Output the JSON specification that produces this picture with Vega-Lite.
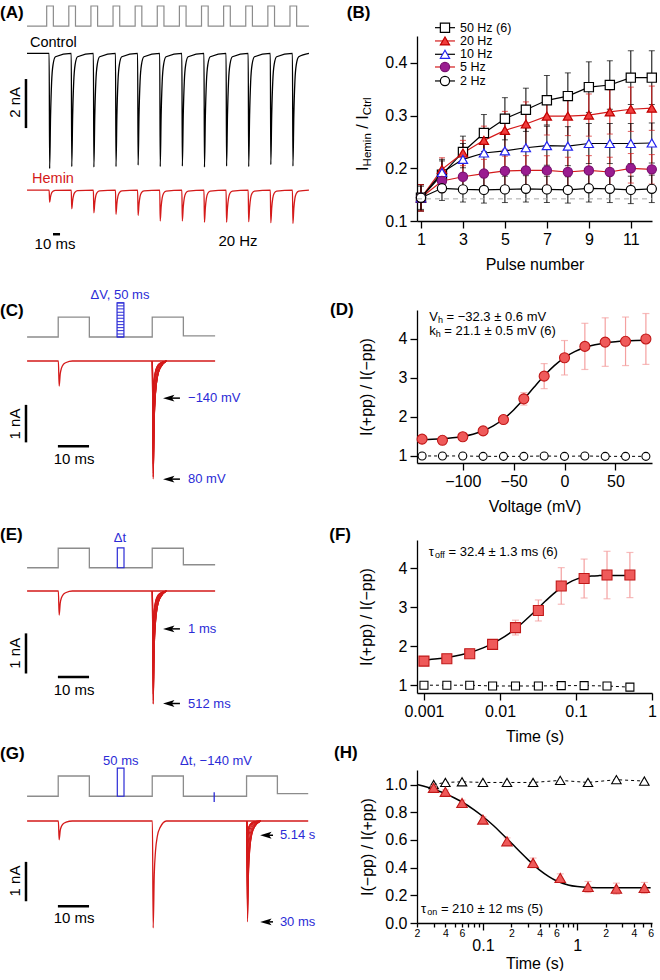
{
"$schema": "https://vega.github.io/schema/vega-lite/v6.json",
"background": "white",
"padding": {"left": 0, "top": 3, "right": 0, "bottom": 0},
"config": {
  "font": "Liberation Sans",
  "view": {"stroke": null},
  "axis": {"labelFont": "Liberation Sans", "titleFont": "Liberation Sans", "labelFontSize": 16, "titleFontSize": 16, "titleFontWeight": "normal", "labelColor": "#000", "titleColor": "#000", "domainColor": "#000", "tickColor": "#000", "grid": false, "tickSize": 7, "domainWidth": 1.3, "tickWidth": 1.3, "labelPadding": 3, "labelFlush": false, "labelOverlap": false},
  "text": {"font": "Liberation Sans", "color": "#000"}
},
"columns": 2,
"align": "each",
"bounds": "flush",
"spacing": {"column": 87, "row": 77},
"concat": [
{
 "width": 330, "height": 197,
 "layer": [
  {"encoding": {
     "x": {"field": "t", "type": "quantitative", "scale": {"domain": [0, 470], "nice": false, "zero": false}, "axis": null},
     "y": {"field": "y", "type": "quantitative", "scale": {"domain": [-7.33, 0.706], "nice": false, "zero": false}, "axis": null}},
   "layer": [
    {"data": {"name": "A_v"}, "mark": {"type": "line", "interpolate": "step-after", "color": "#8c8c8c", "strokeWidth": 1.2}, "encoding": {}},
    {"data": {"name": "A_i"}, "mark": {"type": "line", "interpolate": "monotone", "strokeWidth": 1.3}, "encoding": {"color": {"field": "c", "type": "nominal", "scale": {"domain": ["Control", "Hemin"], "range": ["#000000", "#d41a1a"]}, "legend": null}}}
   ]},
  {"data": {"values": [{}]}, "mark": {"type": "rule", "strokeWidth": 2.5, "color": "#000"}, "encoding": {"x": {"datum": 37, "type": "quantitative", "axis": null}, "y": {"datum": -1.05, "type": "quantitative", "axis": null}, "y2": {"datum": -3.05}}},
  {"data": {"values": [{}]}, "mark": {"type": "rule", "strokeWidth": 2.5, "color": "#000"}, "encoding": {"x": {"datum": 75.5, "type": "quantitative", "axis": null}, "x2": {"datum": 85.5}, "y": {"datum": -7.38, "type": "quantitative", "axis": null}}},
  {"data": {"values": [{}]}, "mark": {"type": "text", "text": "(A)", "fontSize": 17, "fontWeight": "bold", "align": "left", "baseline": "middle"}, "encoding": {"x": {"datum": 0, "type": "quantitative", "axis": null}, "y": {"datum": 1.65, "type": "quantitative", "axis": null}}},
  {"data": {"values": [{}]}, "mark": {"type": "text", "text": "Control", "fontSize": 14.5, "align": "left", "baseline": "middle"}, "encoding": {"x": {"datum": 42.7, "type": "quantitative", "axis": null}, "y": {"datum": 0.42, "type": "quantitative", "axis": null}}},
  {"data": {"values": [{}]}, "mark": {"type": "text", "text": "Hemin", "fontSize": 14.5, "align": "left", "baseline": "middle", "color": "#d41a1a"}, "encoding": {"x": {"datum": 45.6, "type": "quantitative", "axis": null}, "y": {"datum": -5.13, "type": "quantitative", "axis": null}}},
  {"data": {"values": [{}]}, "mark": {"type": "text", "text": "2 nA", "fontSize": 15, "angle": 270, "align": "center", "baseline": "middle"}, "encoding": {"x": {"datum": 21.4, "type": "quantitative", "axis": null}, "y": {"datum": -2.0, "type": "quantitative", "axis": null}}},
  {"data": {"values": [{}]}, "mark": {"type": "text", "text": "10 ms", "fontSize": 15, "align": "center", "baseline": "middle"}, "encoding": {"x": {"datum": 78.3, "type": "quantitative", "axis": null}, "y": {"datum": -7.78, "type": "quantitative", "axis": null}}},
  {"data": {"values": [{}]}, "mark": {"type": "text", "text": "20 Hz", "fontSize": 15, "align": "center", "baseline": "middle"}, "encoding": {"x": {"datum": 339, "type": "quantitative", "axis": null}, "y": {"datum": -7.66, "type": "quantitative", "axis": null}}}
 ]
},
{
 "width": 235, "height": 185,
 "layer": [
  {"encoding": {
     "x": {"field": "x", "type": "quantitative", "scale": {"domain": [0.81, 12.01], "nice": false, "zero": false}, "axis": {"values": [1, 3, 5, 7, 9, 11], "tickCount": 30, "format": "d", "title": "Pulse number", "titlePadding": 9, "labelOverlap": false, "labelFlush": false}},
     "y": {"field": "y", "type": "quantitative", "scale": {"domain": [0.1, 0.451], "nice": false, "zero": false}, "axis": {"values": [0.1, 0.2, 0.3, 0.4], "tickCount": 30, "format": ".1f", "title": null, "labelOverlap": false}}},
   "layer": [
    {"data": {"name": "B"}, "mark": {"type": "rule", "strokeWidth": 1}, "encoding": {"y": {"field": "lo", "type": "quantitative", "title": null}, "y2": {"field": "hi"}, "color": {"field": "s", "type": "nominal", "scale": {"domain": ["50 Hz (6)", "20 Hz", "10 Hz", "5 Hz", "2 Hz"], "range": ["#000000", "#f27474", "#2323f0", "#8e1b86", "#000000"]}, "legend": null}}},
    {"data": {"name": "B"}, "mark": {"type": "tick", "orient": "horizontal", "size": 6, "thickness": 1}, "encoding": {"y": {"field": "lo", "type": "quantitative", "title": null}, "color": {"field": "s", "type": "nominal", "legend": null}}},
    {"data": {"name": "B"}, "mark": {"type": "tick", "orient": "horizontal", "size": 6, "thickness": 1}, "encoding": {"y": {"field": "hi", "type": "quantitative", "title": null}, "color": {"field": "s", "type": "nominal", "legend": null}}},
    {"data": {"name": "B"}, "mark": {"type": "line", "strokeWidth": 1.2}, "encoding": {"color": {"field": "s", "type": "nominal", "legend": null}}},
    {"data": {"name": "B"}, "mark": {"type": "point", "opacity": 1, "strokeWidth": 1.2, "size": 85}, "encoding": {
       "shape": {"field": "s", "type": "nominal", "scale": {"domain": ["50 Hz (6)", "20 Hz", "10 Hz", "5 Hz", "2 Hz"], "range": ["square", "triangle-up", "triangle-up", "circle", "circle"]}, "legend": null},
       "fill": {"field": "s", "type": "nominal", "scale": {"domain": ["50 Hz (6)", "20 Hz", "10 Hz", "5 Hz", "2 Hz"], "range": ["#ffffff", "#f03c3c", "#ffffff", "#9a1c90", "#ffffff"]}, "legend": null},
       "stroke": {"field": "s", "type": "nominal", "scale": {"domain": ["50 Hz (6)", "20 Hz", "10 Hz", "5 Hz", "2 Hz"], "range": ["#000000", "#c00000", "#2323f0", "#7a1070", "#000000"]}, "legend": null}}}
   ]},
  {"data": {"values": [{}]}, "mark": {"type": "rule", "color": "#a6a6a6", "strokeDash": [5, 4], "strokeWidth": 1}, "encoding": {"x": {"datum": 0.81, "type": "quantitative"}, "x2": {"datum": 12.01}, "y": {"datum": 0.142, "type": "quantitative"}}},
  {"data": {"name": "B_leg"}, "mark": {"type": "rule", "strokeWidth": 1.2}, "encoding": {"x": {"datum": 1.667, "type": "quantitative"}, "x2": {"datum": 2.62}, "y": {"field": "y", "type": "quantitative", "title": null}, "color": {"field": "s", "type": "nominal", "legend": null}}},
  {"data": {"name": "B_leg"}, "mark": {"type": "point", "opacity": 1, "strokeWidth": 1.2, "size": 85}, "encoding": {"x": {"datum": 2.143, "type": "quantitative"}, "y": {"field": "y", "type": "quantitative", "title": null}, "shape": {"field": "s", "type": "nominal", "legend": null}, "fill": {"field": "s", "type": "nominal", "legend": null}, "stroke": {"field": "s", "type": "nominal", "legend": null}}},
  {"data": {"name": "B_leg"}, "mark": {"type": "text", "align": "left", "baseline": "middle", "fontSize": 12.5}, "encoding": {"x": {"datum": 2.857, "type": "quantitative"}, "y": {"field": "y", "type": "quantitative", "title": null}, "text": {"field": "s"}}},
  {"data": {"values": [{}]}, "mark": {"type": "text", "text": "I", "angle": 270, "align": "left", "baseline": "middle", "fontSize": 16}, "encoding": {"x": {"datum": -1.74, "type": "quantitative"}, "y": {"datum": 0.195, "type": "quantitative"}}},
  {"data": {"values": [{}]}, "mark": {"type": "text", "text": "Hemin", "angle": 270, "align": "left", "baseline": "middle", "fontSize": 11.5, "dx": 4.5, "dy": 4.5}, "encoding": {"x": {"datum": -1.74, "type": "quantitative"}, "y": {"datum": 0.195, "type": "quantitative"}}},
  {"data": {"values": [{}]}, "mark": {"type": "text", "text": "/ I", "angle": 270, "align": "left", "baseline": "middle", "fontSize": 16, "dx": 42.2}, "encoding": {"x": {"datum": -1.74, "type": "quantitative"}, "y": {"datum": 0.195, "type": "quantitative"}}},
  {"data": {"values": [{}]}, "mark": {"type": "text", "text": "Ctrl", "angle": 270, "align": "left", "baseline": "middle", "fontSize": 11.5, "dx": 55.6, "dy": 4.5}, "encoding": {"x": {"datum": -1.74, "type": "quantitative"}, "y": {"datum": 0.195, "type": "quantitative"}}},
  {"data": {"values": [{}]}, "mark": {"type": "text", "text": "(B)", "fontSize": 17, "fontWeight": "bold", "align": "left", "baseline": "middle"}, "encoding": {"x": {"datum": -2.538, "type": "quantitative"}, "y": {"datum": 0.4953, "type": "quantitative"}}}
 ]
},
{
 "width": 330, "height": 153,
 "layer": [
  {"encoding": {
     "x": {"field": "t", "type": "quantitative", "scale": {"domain": [0, 106], "nice": false, "zero": false}, "axis": null},
     "y": {"field": "y", "type": "quantitative", "scale": {"domain": [-2.72, 1.36], "nice": false, "zero": false}, "axis": null}},
   "layer": [
    {"data": {"name": "C_v"}, "mark": {"type": "line", "interpolate": "step-after", "color": "#8c8c8c", "strokeWidth": 1.3}, "encoding": {}},
    {"data": {"name": "C_i0"}, "mark": {"type": "line", "interpolate": "monotone", "color": "#d41a1a", "strokeWidth": 1.3}, "encoding": {}},
    {"data": {"name": "C_sw"}, "mark": {"type": "line", "interpolate": "monotone", "color": "#d41a1a", "strokeWidth": 1.1}, "encoding": {"detail": {"field": "v", "type": "nominal"}}}
   ]},
  {"data": {"values": [{}]}, "mark": {"type": "rect", "filled": false, "color": "#2b2bd6", "strokeWidth": 1.2}, "encoding": {"x": {"datum": 37.6, "type": "quantitative", "axis": null}, "x2": {"datum": 39.8}, "y": {"datum": 0.64, "type": "quantitative", "axis": null}, "y2": {"datum": 1.55}}},
  {"data": {"name": "C_lv"}, "mark": {"type": "rule", "color": "#2b2bd6", "strokeWidth": 1}, "encoding": {"x": {"datum": 37.6, "type": "quantitative", "axis": null}, "x2": {"datum": 39.8}, "y": {"field": "y", "type": "quantitative", "axis": null}}},
  {"data": {"name": "C_ar"}, "mark": {"type": "rule", "color": "#000", "strokeWidth": 1.5}, "encoding": {"x": {"datum": 53.87, "type": "quantitative", "axis": null}, "x2": {"datum": 57.8}, "y": {"field": "y", "type": "quantitative", "axis": null}}},
  {"data": {"name": "C_ar"}, "mark": {"type": "point", "shape": "M-1,0L1,-0.6L0.55,0L1,0.6Z", "filled": true, "color": "#000", "size": 130, "opacity": 1}, "encoding": {"x": {"datum": 54.2, "type": "quantitative", "axis": null}, "y": {"field": "y", "type": "quantitative", "axis": null}}},
  {"data": {"name": "C_ar"}, "mark": {"type": "text", "align": "left", "baseline": "middle", "fontSize": 13, "color": "#2b2bd6"}, "encoding": {"x": {"datum": 60.4, "type": "quantitative", "axis": null}, "y": {"field": "y", "type": "quantitative", "axis": null}, "text": {"field": "label"}}},
  {"data": {"values": [{}]}, "mark": {"type": "rule", "strokeWidth": 2.5, "color": "#000"}, "encoding": {"x": {"datum": 8.35, "type": "quantitative", "axis": null}, "y": {"datum": -1.17, "type": "quantitative", "axis": null}, "y2": {"datum": -2.17}}},
  {"data": {"values": [{}]}, "mark": {"type": "rule", "strokeWidth": 2.5, "color": "#000"}, "encoding": {"x": {"datum": 18.6, "type": "quantitative", "axis": null}, "x2": {"datum": 28.6}, "y": {"datum": -2.27, "type": "quantitative", "axis": null}}},
  {"data": {"values": [{}]}, "mark": {"type": "text", "text": "(C)", "fontSize": 17, "fontWeight": "bold", "align": "left", "baseline": "middle"}, "encoding": {"x": {"datum": 0, "type": "quantitative", "axis": null}, "y": {"datum": 1.33, "type": "quantitative", "axis": null}}},
  {"data": {"values": [{}]}, "mark": {"type": "text", "text": "ΔV, 50 ms", "fontSize": 13, "align": "center", "baseline": "middle", "color": "#2b2bd6"}, "encoding": {"x": {"datum": 38.55, "type": "quantitative", "axis": null}, "y": {"datum": 1.76, "type": "quantitative", "axis": null}}},
  {"data": {"values": [{}]}, "mark": {"type": "text", "text": "1 nA", "fontSize": 15, "angle": 270, "align": "center", "baseline": "middle"}, "encoding": {"x": {"datum": 4.82, "type": "quantitative", "axis": null}, "y": {"datum": -1.68, "type": "quantitative", "axis": null}}},
  {"data": {"values": [{}]}, "mark": {"type": "text", "text": "10 ms", "fontSize": 15, "align": "center", "baseline": "middle"}, "encoding": {"x": {"datum": 23.8, "type": "quantitative", "axis": null}, "y": {"datum": -2.61, "type": "quantitative", "axis": null}}}
 ]
},
{
 "width": 235, "height": 153,
 "layer": [
  {"encoding": {
     "x": {"field": "x", "type": "quantitative", "scale": {"domain": [-145, 86], "nice": false, "zero": false}, "axis": {"values": [-100, -50, 0, 50], "tickCount": 30, "format": "d", "title": "Voltage (mV)", "titlePadding": 9, "labelOverlap": false, "labelFlush": false}},
     "y": {"field": "y", "type": "quantitative", "scale": {"domain": [0.82, 4.73], "nice": false, "zero": false}, "axis": {"values": [1, 2, 3, 4], "tickCount": 30, "format": "d", "title": "I(+pp) / I(−pp)", "titlePadding": 24, "labelOverlap": false}}},
   "layer": [
    {"data": {"name": "D_c"}, "mark": {"type": "line", "color": "#000", "strokeWidth": 1, "strokeDash": [3, 3]}, "encoding": {}},
    {"data": {"name": "D_c"}, "mark": {"type": "point", "shape": "circle", "fill": "#ffffff", "stroke": "#000", "strokeWidth": 1.1, "size": 64, "opacity": 1}, "encoding": {}},
    {"data": {"name": "D_r"}, "mark": {"type": "rule", "color": "#f4a0a0", "strokeWidth": 1.2}, "encoding": {"y": {"field": "lo", "type": "quantitative"}, "y2": {"field": "hi"}}},
    {"data": {"name": "D_r"}, "mark": {"type": "tick", "orient": "horizontal", "color": "#f4a0a0", "size": 7, "thickness": 1.2}, "encoding": {"y": {"field": "lo", "type": "quantitative"}}},
    {"data": {"name": "D_r"}, "mark": {"type": "tick", "orient": "horizontal", "color": "#f4a0a0", "size": 7, "thickness": 1.2}, "encoding": {"y": {"field": "hi", "type": "quantitative"}}},
    {"data": {"name": "D_fit"}, "mark": {"type": "line", "color": "#000", "strokeWidth": 1.5, "interpolate": "monotone"}, "encoding": {}},
    {"data": {"name": "D_r"}, "mark": {"type": "point", "shape": "circle", "fill": "#ef5a5a", "stroke": "#c01818", "strokeWidth": 1.1, "size": 100, "opacity": 1}, "encoding": {}}
   ]},
  {"data": {"values": [{}]}, "mark": {"type": "text", "text": "V", "fontSize": 13, "align": "left", "baseline": "middle"}, "encoding": {"x": {"datum": -133, "type": "quantitative"}, "y": {"datum": 4.55, "type": "quantitative"}}},
  {"data": {"values": [{}]}, "mark": {"type": "text", "text": "h", "fontSize": 9, "align": "left", "baseline": "middle", "dx": 8.7, "dy": 3}, "encoding": {"x": {"datum": -133, "type": "quantitative"}, "y": {"datum": 4.55, "type": "quantitative"}}},
  {"data": {"values": [{}]}, "mark": {"type": "text", "text": "= −32.3 ± 0.6 mV", "fontSize": 13, "align": "left", "baseline": "middle", "dx": 17.3}, "encoding": {"x": {"datum": -133, "type": "quantitative"}, "y": {"datum": 4.55, "type": "quantitative"}}},
  {"data": {"values": [{}]}, "mark": {"type": "text", "text": "k", "fontSize": 13, "align": "left", "baseline": "middle"}, "encoding": {"x": {"datum": -133, "type": "quantitative"}, "y": {"datum": 4.2, "type": "quantitative"}}},
  {"data": {"values": [{}]}, "mark": {"type": "text", "text": "h", "fontSize": 9, "align": "left", "baseline": "middle", "dx": 6.5, "dy": 3}, "encoding": {"x": {"datum": -133, "type": "quantitative"}, "y": {"datum": 4.2, "type": "quantitative"}}},
  {"data": {"values": [{}]}, "mark": {"type": "text", "text": "= 21.1 ± 0.5 mV (6)", "fontSize": 13, "align": "left", "baseline": "middle", "dx": 15.1}, "encoding": {"x": {"datum": -133, "type": "quantitative"}, "y": {"datum": 4.2, "type": "quantitative"}}},
  {"data": {"values": [{}]}, "mark": {"type": "text", "text": "(D)", "fontSize": 17, "fontWeight": "bold", "align": "left", "baseline": "middle"}, "encoding": {"x": {"datum": -230.5, "type": "quantitative"}, "y": {"datum": 4.72, "type": "quantitative"}}}
 ]
},
{
 "width": 330, "height": 153,
 "layer": [
  {"encoding": {
     "x": {"field": "t", "type": "quantitative", "scale": {"domain": [0, 106], "nice": false, "zero": false}, "axis": null},
     "y": {"field": "y", "type": "quantitative", "scale": {"domain": [-2.72, 1.36], "nice": false, "zero": false}, "axis": null}},
   "layer": [
    {"data": {"name": "E_v"}, "mark": {"type": "line", "interpolate": "step-after", "color": "#8c8c8c", "strokeWidth": 1.3}, "encoding": {}},
    {"data": {"name": "E_i0"}, "mark": {"type": "line", "interpolate": "monotone", "color": "#d41a1a", "strokeWidth": 1.3}, "encoding": {}},
    {"data": {"name": "E_sw"}, "mark": {"type": "line", "interpolate": "monotone", "color": "#d41a1a", "strokeWidth": 1.1}, "encoding": {"detail": {"field": "d", "type": "nominal"}}}
   ]},
  {"data": {"values": [{}]}, "mark": {"type": "rect", "filled": false, "color": "#2b2bd6", "strokeWidth": 1.2}, "encoding": {"x": {"datum": 37.68, "type": "quantitative", "axis": null}, "x2": {"datum": 39.83}, "y": {"datum": 0.62, "type": "quantitative", "axis": null}, "y2": {"datum": 1.15}}},
  {"data": {"name": "E_ar"}, "mark": {"type": "rule", "color": "#000", "strokeWidth": 1.5}, "encoding": {"x": {"datum": 53.87, "type": "quantitative", "axis": null}, "x2": {"datum": 57.8}, "y": {"field": "y", "type": "quantitative", "axis": null}}},
  {"data": {"name": "E_ar"}, "mark": {"type": "point", "shape": "M-1,0L1,-0.6L0.55,0L1,0.6Z", "filled": true, "color": "#000", "size": 130, "opacity": 1}, "encoding": {"x": {"datum": 54.2, "type": "quantitative", "axis": null}, "y": {"field": "y", "type": "quantitative", "axis": null}}},
  {"data": {"name": "E_ar"}, "mark": {"type": "text", "align": "left", "baseline": "middle", "fontSize": 13, "color": "#2b2bd6"}, "encoding": {"x": {"datum": 60.4, "type": "quantitative", "axis": null}, "y": {"field": "y", "type": "quantitative", "axis": null}, "text": {"field": "label"}}},
  {"data": {"values": [{}]}, "mark": {"type": "rule", "strokeWidth": 2.5, "color": "#000"}, "encoding": {"x": {"datum": 8.35, "type": "quantitative", "axis": null}, "y": {"datum": -1.13, "type": "quantitative", "axis": null}, "y2": {"datum": -2.2}}},
  {"data": {"values": [{}]}, "mark": {"type": "rule", "strokeWidth": 2.5, "color": "#000"}, "encoding": {"x": {"datum": 18.6, "type": "quantitative", "axis": null}, "x2": {"datum": 28.6}, "y": {"datum": -2.29, "type": "quantitative", "axis": null}}},
  {"data": {"values": [{}]}, "mark": {"type": "text", "text": "(E)", "fontSize": 17, "fontWeight": "bold", "align": "left", "baseline": "middle"}, "encoding": {"x": {"datum": 0, "type": "quantitative", "axis": null}, "y": {"datum": 1.5, "type": "quantitative", "axis": null}}},
  {"data": {"values": [{}]}, "mark": {"type": "text", "text": "Δt", "fontSize": 13, "align": "center", "baseline": "middle", "color": "#2b2bd6"}, "encoding": {"x": {"datum": 38.55, "type": "quantitative", "axis": null}, "y": {"datum": 1.42, "type": "quantitative", "axis": null}}},
  {"data": {"values": [{}]}, "mark": {"type": "text", "text": "1 nA", "fontSize": 15, "angle": 270, "align": "center", "baseline": "middle"}, "encoding": {"x": {"datum": 4.82, "type": "quantitative", "axis": null}, "y": {"datum": -1.66, "type": "quantitative", "axis": null}}},
  {"data": {"values": [{}]}, "mark": {"type": "text", "text": "10 ms", "fontSize": 15, "align": "center", "baseline": "middle"}, "encoding": {"x": {"datum": 23.8, "type": "quantitative", "axis": null}, "y": {"datum": -2.63, "type": "quantitative", "axis": null}}}
 ]
},
{
 "width": 235, "height": 153,
 "layer": [
  {"encoding": {
     "x": {"field": "x", "type": "quantitative", "scale": {"type": "log", "domain": [0.00081, 1], "nice": false, "zero": false}, "axis": {"values": [0.001, 0.01, 0.1, 1], "tickCount": 30, "format": "~g", "title": "Time (s)", "titlePadding": 9, "labelOverlap": false, "labelFlush": false}},
     "y": {"field": "y", "type": "quantitative", "scale": {"domain": [0.8, 4.73], "nice": false, "zero": false}, "axis": {"values": [1, 2, 3, 4], "tickCount": 30, "format": "d", "title": "I(+pp) / I(−pp)", "titlePadding": 24, "labelOverlap": false}}},
   "layer": [
    {"data": {"name": "F_c"}, "mark": {"type": "line", "color": "#000", "strokeWidth": 1, "strokeDash": [3, 3]}, "encoding": {}},
    {"data": {"name": "F_c"}, "mark": {"type": "point", "shape": "square", "fill": "#ffffff", "stroke": "#000", "strokeWidth": 1.1, "size": 64, "opacity": 1}, "encoding": {}},
    {"data": {"name": "F_r"}, "mark": {"type": "rule", "color": "#f4a0a0", "strokeWidth": 1.2}, "encoding": {"y": {"field": "lo", "type": "quantitative"}, "y2": {"field": "hi"}}},
    {"data": {"name": "F_r"}, "mark": {"type": "tick", "orient": "horizontal", "color": "#f4a0a0", "size": 7, "thickness": 1.2}, "encoding": {"y": {"field": "lo", "type": "quantitative"}}},
    {"data": {"name": "F_r"}, "mark": {"type": "tick", "orient": "horizontal", "color": "#f4a0a0", "size": 7, "thickness": 1.2}, "encoding": {"y": {"field": "hi", "type": "quantitative"}}},
    {"data": {"name": "F_fit"}, "mark": {"type": "line", "color": "#000", "strokeWidth": 1.5, "interpolate": "monotone"}, "encoding": {}},
    {"data": {"name": "F_r"}, "mark": {"type": "point", "shape": "square", "fill": "#ef5a5a", "stroke": "#c01818", "strokeWidth": 1.1, "size": 100, "opacity": 1}, "encoding": {}}
   ]},
  {"data": {"values": [{}]}, "mark": {"type": "text", "text": "τ", "fontSize": 13, "align": "left", "baseline": "middle"}, "encoding": {"x": {"datum": 0.001154, "type": "quantitative"}, "y": {"datum": 4.42, "type": "quantitative"}}},
  {"data": {"values": [{}]}, "mark": {"type": "text", "text": "off", "fontSize": 9, "align": "left", "baseline": "middle", "dx": 6.2, "dy": 3}, "encoding": {"x": {"datum": 0.001154, "type": "quantitative"}, "y": {"datum": 4.42, "type": "quantitative"}}},
  {"data": {"values": [{}]}, "mark": {"type": "text", "text": "= 32.4 ± 1.3 ms (6)", "fontSize": 13, "align": "left", "baseline": "middle", "dx": 19.8}, "encoding": {"x": {"datum": 0.001154, "type": "quantitative"}, "y": {"datum": 4.42, "type": "quantitative"}}},
  {"data": {"values": [{}]}, "mark": {"type": "text", "text": "(F)", "fontSize": 17, "fontWeight": "bold", "align": "left", "baseline": "middle"}, "encoding": {"x": {"datum": 0.0000568, "type": "quantitative"}, "y": {"datum": 4.87, "type": "quantitative"}}}
 ]
},
{
 "width": 330, "height": 153,
 "layer": [
  {"encoding": {
     "x": {"field": "t", "type": "quantitative", "scale": {"domain": [0, 106], "nice": false, "zero": false}, "axis": null},
     "y": {"field": "y", "type": "quantitative", "scale": {"domain": [-2.72, 1.36], "nice": false, "zero": false}, "axis": null}},
   "layer": [
    {"data": {"name": "G_v"}, "mark": {"type": "line", "interpolate": "step-after", "color": "#8c8c8c", "strokeWidth": 1.3}, "encoding": {}},
    {"data": {"name": "G_i0"}, "mark": {"type": "line", "interpolate": "monotone", "color": "#d41a1a", "strokeWidth": 1.3}, "encoding": {}},
    {"data": {"name": "G_sw"}, "mark": {"type": "line", "interpolate": "monotone", "color": "#d41a1a", "strokeWidth": 1.1}, "encoding": {"detail": {"field": "d", "type": "nominal"}}}
   ]},
  {"data": {"values": [{}]}, "mark": {"type": "rect", "filled": false, "color": "#2b2bd6", "strokeWidth": 1.2}, "encoding": {"x": {"datum": 37.68, "type": "quantitative", "axis": null}, "x2": {"datum": 39.83}, "y": {"datum": 0.66, "type": "quantitative", "axis": null}, "y2": {"datum": 1.41}}},
  {"data": {"values": [{}]}, "mark": {"type": "rule", "color": "#2b2bd6", "strokeWidth": 1.3}, "encoding": {"x": {"datum": 68.8, "type": "quantitative", "axis": null}, "y": {"datum": 0.51, "type": "quantitative", "axis": null}, "y2": {"datum": 0.77}}},
  {"data": {"name": "G_ar"}, "mark": {"type": "rule", "color": "#000", "strokeWidth": 1.5}, "encoding": {"x": {"datum": 85.1, "type": "quantitative", "axis": null}, "x2": {"datum": 87.7}, "y": {"field": "y", "type": "quantitative", "axis": null}}},
  {"data": {"name": "G_ar"}, "mark": {"type": "point", "shape": "M-1,0L1,-0.6L0.55,0L1,0.6Z", "filled": true, "color": "#000", "size": 130, "opacity": 1}, "encoding": {"x": {"datum": 85.4, "type": "quantitative", "axis": null}, "y": {"field": "y", "type": "quantitative", "axis": null}}},
  {"data": {"name": "G_ar"}, "mark": {"type": "text", "align": "left", "baseline": "middle", "fontSize": 13, "color": "#2b2bd6"}, "encoding": {"x": {"datum": 89.9, "type": "quantitative", "axis": null}, "y": {"field": "y", "type": "quantitative", "axis": null}, "text": {"field": "label"}}},
  {"data": {"values": [{}]}, "mark": {"type": "rule", "strokeWidth": 2.5, "color": "#000"}, "encoding": {"x": {"datum": 8.35, "type": "quantitative", "axis": null}, "y": {"datum": -1.09, "type": "quantitative", "axis": null}, "y2": {"datum": -2.14}}},
  {"data": {"values": [{}]}, "mark": {"type": "rule", "strokeWidth": 2.5, "color": "#000"}, "encoding": {"x": {"datum": 18.6, "type": "quantitative", "axis": null}, "x2": {"datum": 28.6}, "y": {"datum": -2.27, "type": "quantitative", "axis": null}}},
  {"data": {"values": [{}]}, "mark": {"type": "text", "text": "(G)", "fontSize": 17, "fontWeight": "bold", "align": "left", "baseline": "middle"}, "encoding": {"x": {"datum": 0, "type": "quantitative", "axis": null}, "y": {"datum": 1.8, "type": "quantitative", "axis": null}}},
  {"data": {"values": [{}]}, "mark": {"type": "text", "text": "50 ms", "fontSize": 13, "align": "center", "baseline": "middle", "color": "#2b2bd6"}, "encoding": {"x": {"datum": 38.8, "type": "quantitative", "axis": null}, "y": {"datum": 1.6, "type": "quantitative", "axis": null}}},
  {"data": {"values": [{}]}, "mark": {"type": "text", "text": "Δt, −140 mV", "fontSize": 13, "align": "center", "baseline": "middle", "color": "#2b2bd6"}, "encoding": {"x": {"datum": 69.4, "type": "quantitative", "axis": null}, "y": {"datum": 1.6, "type": "quantitative", "axis": null}}},
  {"data": {"values": [{}]}, "mark": {"type": "text", "text": "1 nA", "fontSize": 15, "angle": 270, "align": "center", "baseline": "middle"}, "encoding": {"x": {"datum": 4.82, "type": "quantitative", "axis": null}, "y": {"datum": -1.6, "type": "quantitative", "axis": null}}},
  {"data": {"values": [{}]}, "mark": {"type": "text", "text": "10 ms", "fontSize": 15, "align": "center", "baseline": "middle"}, "encoding": {"x": {"datum": 23.8, "type": "quantitative", "axis": null}, "y": {"datum": -2.59, "type": "quantitative", "axis": null}}}
 ]
},
{
 "width": 235, "height": 153,
 "layer": [
  {"encoding": {
     "x": {"field": "x", "type": "quantitative", "scale": {"type": "log", "domain": [0.02, 6.2], "nice": false, "zero": false}, "axis": {
        "values": [0.02, 0.03, 0.04, 0.05, 0.06, 0.07, 0.08, 0.09, 0.1, 0.2, 0.3, 0.4, 0.5, 0.6, 0.7, 0.8, 0.9, 1, 2, 3, 4, 5, 6],
        "tickCount": 30,
        "format": "~g",
        "labelExpr": "indexof(['0.02','0.04','0.06','0.2','0.4','0.6','2','4','6'], datum.label) >= 0 ? substring(datum.label, length(datum.label) - 1) : ((datum.label == '0.1' || datum.label == '1') ? datum.label : '')",
        "labelFontSize": {"condition": {"test": "datum.value == 0.1 || datum.value == 1", "value": 16}, "value": 10.5},
        "labelPadding": {"condition": {"test": "datum.value == 0.1 || datum.value == 1", "value": 7}, "value": 1},
        "tickSize": {"condition": {"test": "datum.value == 0.1 || datum.value == 1", "value": 7}, "value": 4},
        "labelOverlap": false, "labelFlush": false,
        "title": "Time (s)", "titlePadding": 2}},
     "y": {"field": "y", "type": "quantitative", "scale": {"domain": [0, 1.105], "nice": false, "zero": false}, "axis": {"values": [0, 0.2, 0.4, 0.6, 0.8, 1.0], "tickCount": 30, "format": ".1f", "title": "I(−pp) / I(+pp)", "titlePadding": 9, "labelOverlap": false}}},
   "layer": [
    {"data": {"name": "H_c"}, "mark": {"type": "line", "color": "#000", "strokeWidth": 1, "strokeDash": [3, 3]}, "encoding": {}},
    {"data": {"name": "H_c"}, "mark": {"type": "point", "shape": "triangle-up", "fill": "#ffffff", "stroke": "#000", "strokeWidth": 1.1, "size": 90, "opacity": 1}, "encoding": {}},
    {"data": {"name": "H_r"}, "mark": {"type": "rule", "color": "#f4a0a0", "strokeWidth": 1.2}, "encoding": {"y": {"field": "lo", "type": "quantitative"}, "y2": {"field": "hi"}}},
    {"data": {"name": "H_r"}, "mark": {"type": "tick", "orient": "horizontal", "color": "#f4a0a0", "size": 7, "thickness": 1.2}, "encoding": {"y": {"field": "lo", "type": "quantitative"}}},
    {"data": {"name": "H_r"}, "mark": {"type": "tick", "orient": "horizontal", "color": "#f4a0a0", "size": 7, "thickness": 1.2}, "encoding": {"y": {"field": "hi", "type": "quantitative"}}},
    {"data": {"name": "H_fit"}, "mark": {"type": "line", "color": "#000", "strokeWidth": 1.5, "interpolate": "monotone"}, "encoding": {}},
    {"data": {"name": "H_r"}, "mark": {"type": "point", "shape": "triangle-up", "fill": "#ef5a5a", "stroke": "#c01818", "strokeWidth": 1.1, "size": 110, "opacity": 1}, "encoding": {}}
   ]},
  {"data": {"values": [{}]}, "mark": {"type": "text", "text": "τ", "fontSize": 13, "align": "left", "baseline": "middle"}, "encoding": {"x": {"datum": 0.0221, "type": "quantitative"}, "y": {"datum": 0.104, "type": "quantitative"}}},
  {"data": {"values": [{}]}, "mark": {"type": "text", "text": "on", "fontSize": 9, "align": "left", "baseline": "middle", "dx": 6.2, "dy": 3}, "encoding": {"x": {"datum": 0.0221, "type": "quantitative"}, "y": {"datum": 0.104, "type": "quantitative"}}},
  {"data": {"values": [{}]}, "mark": {"type": "text", "text": "= 210 ± 12 ms (5)", "fontSize": 13, "align": "left", "baseline": "middle", "dx": 19.8}, "encoding": {"x": {"datum": 0.0221, "type": "quantitative"}, "y": {"datum": 0.104, "type": "quantitative"}}},
  {"data": {"values": [{}]}, "mark": {"type": "text", "text": "(H)", "fontSize": 17, "fontWeight": "bold", "align": "left", "baseline": "middle"}, "encoding": {"x": {"datum": 0.00264, "type": "quantitative"}, "y": {"datum": 1.23, "type": "quantitative"}}}
 ]
}
],
"datasets": {
"A_v": [{"t":38.5,"y":1.11},{"t":66.5,"y":1.93},{"t":76,"y":1.11},{"t":98,"y":1.93},{"t":107.5,"y":1.11},{"t":129.5,"y":1.93},{"t":139,"y":1.11},{"t":161,"y":1.93},{"t":170.5,"y":1.11},{"t":192.5,"y":1.93},{"t":202,"y":1.11},{"t":224,"y":1.93},{"t":233.5,"y":1.11},{"t":255.5,"y":1.93},{"t":265,"y":1.11},{"t":287,"y":1.93},{"t":296.5,"y":1.11},{"t":318.5,"y":1.93},{"t":328,"y":1.11},{"t":350,"y":1.93},{"t":359.5,"y":1.11},{"t":381.5,"y":1.93},{"t":391,"y":1.11},{"t":413,"y":1.93},{"t":422.5,"y":1.11},{"t":440,"y":1.11}],
"A_i": [
{"c":"Control","t":38.5,"y":0},
{"c":"Control","t":70,"y":0},{"c":"Control","t":70.7,"y":-4.7},{"c":"Control","t":72,"y":-2.59},{"c":"Control","t":73.5,"y":-1.18},{"c":"Control","t":75.5,"y":-0.47},{"c":"Control","t":79,"y":-0.14},
{"c":"Control","t":101.5,"y":0},{"c":"Control","t":102.2,"y":-4.62},{"c":"Control","t":103.5,"y":-2.54},{"c":"Control","t":105,"y":-1.16},{"c":"Control","t":107,"y":-0.46},{"c":"Control","t":110.5,"y":-0.14},
{"c":"Control","t":133,"y":0},{"c":"Control","t":133.7,"y":-4.64},{"c":"Control","t":135,"y":-2.55},{"c":"Control","t":136.5,"y":-1.16},{"c":"Control","t":138.5,"y":-0.46},{"c":"Control","t":142,"y":-0.14},
{"c":"Control","t":164.5,"y":0},{"c":"Control","t":165.2,"y":-4.62},{"c":"Control","t":166.5,"y":-2.54},{"c":"Control","t":168,"y":-1.16},{"c":"Control","t":170,"y":-0.46},{"c":"Control","t":173.5,"y":-0.14},
{"c":"Control","t":196,"y":0},{"c":"Control","t":196.7,"y":-4.56},{"c":"Control","t":198,"y":-2.51},{"c":"Control","t":199.5,"y":-1.14},{"c":"Control","t":201.5,"y":-0.46},{"c":"Control","t":205,"y":-0.14},
{"c":"Control","t":227.5,"y":0},{"c":"Control","t":228.2,"y":-4.62},{"c":"Control","t":229.5,"y":-2.54},{"c":"Control","t":231,"y":-1.16},{"c":"Control","t":233,"y":-0.46},{"c":"Control","t":236.5,"y":-0.14},
{"c":"Control","t":259,"y":0},{"c":"Control","t":259.7,"y":-4.6},{"c":"Control","t":261,"y":-2.53},{"c":"Control","t":262.5,"y":-1.15},{"c":"Control","t":264.5,"y":-0.46},{"c":"Control","t":268,"y":-0.14},
{"c":"Control","t":290.5,"y":0},{"c":"Control","t":291.2,"y":-4.64},{"c":"Control","t":292.5,"y":-2.55},{"c":"Control","t":294,"y":-1.16},{"c":"Control","t":296,"y":-0.46},{"c":"Control","t":299.5,"y":-0.14},
{"c":"Control","t":322,"y":0},{"c":"Control","t":322.7,"y":-4.6},{"c":"Control","t":324,"y":-2.53},{"c":"Control","t":325.5,"y":-1.15},{"c":"Control","t":327.5,"y":-0.46},{"c":"Control","t":331,"y":-0.14},
{"c":"Control","t":353.5,"y":0},{"c":"Control","t":354.2,"y":-4.62},{"c":"Control","t":355.5,"y":-2.54},{"c":"Control","t":357,"y":-1.16},{"c":"Control","t":359,"y":-0.46},{"c":"Control","t":362.5,"y":-0.14},
{"c":"Control","t":385,"y":0},{"c":"Control","t":385.7,"y":-4.54},{"c":"Control","t":387,"y":-2.5},{"c":"Control","t":388.5,"y":-1.14},{"c":"Control","t":390.5,"y":-0.45},{"c":"Control","t":394,"y":-0.14},
{"c":"Control","t":416.5,"y":0},{"c":"Control","t":417.2,"y":-4.6},{"c":"Control","t":418.5,"y":-2.53},{"c":"Control","t":420,"y":-1.15},{"c":"Control","t":422,"y":-0.46},{"c":"Control","t":425.5,"y":-0.14},
{"c":"Control","t":440,"y":0},
{"c":"Hemin","t":38.5,"y":-5.58},
{"c":"Hemin","t":70,"y":-5.58},{"c":"Hemin","t":70.7,"y":-6.07},{"c":"Hemin","t":72,"y":-5.85},{"c":"Hemin","t":73.5,"y":-5.7},{"c":"Hemin","t":75.5,"y":-5.63},{"c":"Hemin","t":79,"y":-5.59},
{"c":"Hemin","t":101.5,"y":-5.58},{"c":"Hemin","t":102.2,"y":-6.34},{"c":"Hemin","t":103.5,"y":-6.0},{"c":"Hemin","t":105,"y":-5.77},{"c":"Hemin","t":107,"y":-5.66},{"c":"Hemin","t":110.5,"y":-5.6},
{"c":"Hemin","t":133,"y":-5.58},{"c":"Hemin","t":133.7,"y":-6.51},{"c":"Hemin","t":135,"y":-6.09},{"c":"Hemin","t":136.5,"y":-5.81},{"c":"Hemin","t":138.5,"y":-5.67},{"c":"Hemin","t":142,"y":-5.61},
{"c":"Hemin","t":164.5,"y":-5.58},{"c":"Hemin","t":165.2,"y":-6.57},{"c":"Hemin","t":166.5,"y":-6.12},{"c":"Hemin","t":168,"y":-5.83},{"c":"Hemin","t":170,"y":-5.68},{"c":"Hemin","t":173.5,"y":-5.61},
{"c":"Hemin","t":196,"y":-5.58},{"c":"Hemin","t":196.7,"y":-6.61},{"c":"Hemin","t":198,"y":-6.15},{"c":"Hemin","t":199.5,"y":-5.84},{"c":"Hemin","t":201.5,"y":-5.68},{"c":"Hemin","t":205,"y":-5.61},
{"c":"Hemin","t":227.5,"y":-5.58},{"c":"Hemin","t":228.2,"y":-6.84},{"c":"Hemin","t":229.5,"y":-6.27},{"c":"Hemin","t":231,"y":-5.9},{"c":"Hemin","t":233,"y":-5.71},{"c":"Hemin","t":236.5,"y":-5.62},
{"c":"Hemin","t":259,"y":-5.58},{"c":"Hemin","t":259.7,"y":-6.84},{"c":"Hemin","t":261,"y":-6.27},{"c":"Hemin","t":262.5,"y":-5.9},{"c":"Hemin","t":264.5,"y":-5.71},{"c":"Hemin","t":268,"y":-5.62},
{"c":"Hemin","t":290.5,"y":-5.58},{"c":"Hemin","t":291.2,"y":-6.89},{"c":"Hemin","t":292.5,"y":-6.3},{"c":"Hemin","t":294,"y":-5.91},{"c":"Hemin","t":296,"y":-5.71},{"c":"Hemin","t":299.5,"y":-5.62},
{"c":"Hemin","t":322,"y":-5.58},{"c":"Hemin","t":322.7,"y":-6.89},{"c":"Hemin","t":324,"y":-6.3},{"c":"Hemin","t":325.5,"y":-5.91},{"c":"Hemin","t":327.5,"y":-5.71},{"c":"Hemin","t":331,"y":-5.62},
{"c":"Hemin","t":353.5,"y":-5.58},{"c":"Hemin","t":354.2,"y":-6.87},{"c":"Hemin","t":355.5,"y":-6.29},{"c":"Hemin","t":357,"y":-5.9},{"c":"Hemin","t":359,"y":-5.71},{"c":"Hemin","t":362.5,"y":-5.62},
{"c":"Hemin","t":385,"y":-5.58},{"c":"Hemin","t":385.7,"y":-6.91},{"c":"Hemin","t":387,"y":-6.31},{"c":"Hemin","t":388.5,"y":-5.91},{"c":"Hemin","t":390.5,"y":-5.71},{"c":"Hemin","t":394,"y":-5.62},
{"c":"Hemin","t":416.5,"y":-5.58},{"c":"Hemin","t":417.2,"y":-6.94},{"c":"Hemin","t":418.5,"y":-6.33},{"c":"Hemin","t":420,"y":-5.92},{"c":"Hemin","t":422,"y":-5.72},{"c":"Hemin","t":425.5,"y":-5.62},
{"c":"Hemin","t":440,"y":-5.58}
],
"C_v": [{"t":8.7,"y":0.64},{"t":18.7,"y":1.17},{"t":28.7,"y":0.64},{"t":48.9,"y":1.17},{"t":58.9,"y":0.67},{"t":69.1,"y":0.67}],
"C_lv": [{"v":-140,"y":0.64},{"v":-120,"y":0.72},{"v":-100,"y":0.81},{"v":-80,"y":0.89},{"v":-60,"y":0.97},{"v":-40,"y":1.05},{"v":-20,"y":1.14},{"v":0,"y":1.22},{"v":20,"y":1.3},{"v":40,"y":1.39},{"v":60,"y":1.47},{"v":80,"y":1.55}],
"C_i0": [{"t":8.7,"y":0},{"t":18.75,"y":0},{"t":19.0,"y":-0.67},{"t":19.35,"y":-0.34},{"t":19.75,"y":-0.19},{"t":20.35,"y":-0.09},{"t":21.25,"y":-0.04},{"t":23.25,"y":0},{"t":69.1,"y":0}],
"C_sw": [
{"v":-140,"t":48.95,"y":0},{"v":-140,"t":49.2,"y":-0.99},{"v":-140,"t":49.55,"y":-0.5},{"v":-140,"t":49.95,"y":-0.28},{"v":-140,"t":50.55,"y":-0.14},{"v":-140,"t":51.45,"y":-0.06},{"v":-140,"t":53.45,"y":0},
{"v":-120,"t":48.95,"y":0},{"v":-120,"t":49.2,"y":-0.97},{"v":-120,"t":49.55,"y":-0.49},{"v":-120,"t":49.95,"y":-0.27},{"v":-120,"t":50.55,"y":-0.14},{"v":-120,"t":51.45,"y":-0.06},{"v":-120,"t":53.45,"y":0},
{"v":-100,"t":48.95,"y":0},{"v":-100,"t":49.2,"y":-1.04},{"v":-100,"t":49.55,"y":-0.52},{"v":-100,"t":49.95,"y":-0.29},{"v":-100,"t":50.55,"y":-0.15},{"v":-100,"t":51.45,"y":-0.06},{"v":-100,"t":53.45,"y":0},
{"v":-80,"t":48.95,"y":0},{"v":-80,"t":49.2,"y":-1.17},{"v":-80,"t":49.55,"y":-0.59},{"v":-80,"t":49.95,"y":-0.33},{"v":-80,"t":50.55,"y":-0.16},{"v":-80,"t":51.45,"y":-0.07},{"v":-80,"t":53.45,"y":0},
{"v":-60,"t":48.95,"y":0},{"v":-60,"t":49.2,"y":-1.41},{"v":-60,"t":49.55,"y":-0.71},{"v":-60,"t":49.95,"y":-0.39},{"v":-60,"t":50.55,"y":-0.2},{"v":-60,"t":51.45,"y":-0.08},{"v":-60,"t":53.45,"y":0},
{"v":-40,"t":48.95,"y":0},{"v":-40,"t":49.2,"y":-1.86},{"v":-40,"t":49.55,"y":-0.93},{"v":-40,"t":49.95,"y":-0.52},{"v":-40,"t":50.55,"y":-0.26},{"v":-40,"t":51.45,"y":-0.11},{"v":-40,"t":53.45,"y":0},
{"v":-20,"t":48.95,"y":0},{"v":-20,"t":49.2,"y":-2.35},{"v":-20,"t":49.55,"y":-1.18},{"v":-20,"t":49.95,"y":-0.66},{"v":-20,"t":50.55,"y":-0.33},{"v":-20,"t":51.45,"y":-0.14},{"v":-20,"t":53.45,"y":0},
{"v":0,"t":48.95,"y":0},{"v":0,"t":49.2,"y":-2.75},{"v":0,"t":49.55,"y":-1.38},{"v":0,"t":49.95,"y":-0.77},{"v":0,"t":50.55,"y":-0.39},{"v":0,"t":51.45,"y":-0.17},{"v":0,"t":53.45,"y":0},
{"v":20,"t":48.95,"y":0},{"v":20,"t":49.2,"y":-3.0},{"v":20,"t":49.55,"y":-1.5},{"v":20,"t":49.95,"y":-0.84},{"v":20,"t":50.55,"y":-0.42},{"v":20,"t":51.45,"y":-0.18},{"v":20,"t":53.45,"y":0},
{"v":40,"t":48.95,"y":0},{"v":40,"t":49.2,"y":-3.08},{"v":40,"t":49.55,"y":-1.54},{"v":40,"t":49.95,"y":-0.86},{"v":40,"t":50.55,"y":-0.43},{"v":40,"t":51.45,"y":-0.18},{"v":40,"t":53.45,"y":0},
{"v":60,"t":48.95,"y":0},{"v":60,"t":49.2,"y":-3.1},{"v":60,"t":49.55,"y":-1.55},{"v":60,"t":49.95,"y":-0.87},{"v":60,"t":50.55,"y":-0.43},{"v":60,"t":51.45,"y":-0.19},{"v":60,"t":53.45,"y":0},
{"v":80,"t":48.95,"y":0},{"v":80,"t":49.2,"y":-3.15},{"v":80,"t":49.55,"y":-1.58},{"v":80,"t":49.95,"y":-0.88},{"v":80,"t":50.55,"y":-0.44},{"v":80,"t":51.45,"y":-0.19},{"v":80,"t":53.45,"y":0}
],
"C_ar": [{"y":-0.99,"label":"−140 mV"},{"y":-3.15,"label":"80 mV"}],
"E_v": [{"t":8.7,"y":0.62},{"t":18.7,"y":1.14},{"t":28.7,"y":0.62},{"t":48.9,"y":1.14},{"t":58.9,"y":0.7},{"t":69.1,"y":0.7}],
"E_i0": [{"t":8.7,"y":0},{"t":18.75,"y":0},{"t":19.0,"y":-0.64},{"t":19.35,"y":-0.32},{"t":19.75,"y":-0.18},{"t":20.35,"y":-0.09},{"t":21.25,"y":-0.04},{"t":23.25,"y":0},{"t":69.1,"y":0}],
"E_sw": [
{"d":1,"t":48.95,"y":0},{"d":1,"t":49.2,"y":-1.01},{"d":1,"t":49.55,"y":-0.51},{"d":1,"t":49.95,"y":-0.28},{"d":1,"t":50.55,"y":-0.14},{"d":1,"t":51.45,"y":-0.06},{"d":1,"t":53.45,"y":0},
{"d":2,"t":48.95,"y":0},{"d":2,"t":49.2,"y":-1.06},{"d":2,"t":49.55,"y":-0.53},{"d":2,"t":49.95,"y":-0.3},{"d":2,"t":50.55,"y":-0.15},{"d":2,"t":51.45,"y":-0.06},{"d":2,"t":53.45,"y":0},
{"d":4,"t":48.95,"y":0},{"d":4,"t":49.2,"y":-1.18},{"d":4,"t":49.55,"y":-0.59},{"d":4,"t":49.95,"y":-0.33},{"d":4,"t":50.55,"y":-0.17},{"d":4,"t":51.45,"y":-0.07},{"d":4,"t":53.45,"y":0},
{"d":8,"t":48.95,"y":0},{"d":8,"t":49.2,"y":-1.4},{"d":8,"t":49.55,"y":-0.7},{"d":8,"t":49.95,"y":-0.39},{"d":8,"t":50.55,"y":-0.2},{"d":8,"t":51.45,"y":-0.08},{"d":8,"t":53.45,"y":0},
{"d":16,"t":48.95,"y":0},{"d":16,"t":49.2,"y":-1.78},{"d":16,"t":49.55,"y":-0.89},{"d":16,"t":49.95,"y":-0.5},{"d":16,"t":50.55,"y":-0.25},{"d":16,"t":51.45,"y":-0.11},{"d":16,"t":53.45,"y":0},
{"d":32,"t":48.95,"y":0},{"d":32,"t":49.2,"y":-2.18},{"d":32,"t":49.55,"y":-1.09},{"d":32,"t":49.95,"y":-0.61},{"d":32,"t":50.55,"y":-0.31},{"d":32,"t":51.45,"y":-0.13},{"d":32,"t":53.45,"y":0},
{"d":64,"t":48.95,"y":0},{"d":64,"t":49.2,"y":-2.75},{"d":64,"t":49.55,"y":-1.38},{"d":64,"t":49.95,"y":-0.77},{"d":64,"t":50.55,"y":-0.39},{"d":64,"t":51.45,"y":-0.17},{"d":64,"t":53.45,"y":0},
{"d":128,"t":48.95,"y":0},{"d":128,"t":49.2,"y":-2.92},{"d":128,"t":49.55,"y":-1.46},{"d":128,"t":49.95,"y":-0.82},{"d":128,"t":50.55,"y":-0.41},{"d":128,"t":51.45,"y":-0.18},{"d":128,"t":53.45,"y":0},
{"d":256,"t":48.95,"y":0},{"d":256,"t":49.2,"y":-3.0},{"d":256,"t":49.55,"y":-1.5},{"d":256,"t":49.95,"y":-0.84},{"d":256,"t":50.55,"y":-0.42},{"d":256,"t":51.45,"y":-0.18},{"d":256,"t":53.45,"y":0},
{"d":512,"t":48.95,"y":0},{"d":512,"t":49.2,"y":-3.02},{"d":512,"t":49.55,"y":-1.51},{"d":512,"t":49.95,"y":-0.85},{"d":512,"t":50.55,"y":-0.42},{"d":512,"t":51.45,"y":-0.18},{"d":512,"t":53.45,"y":0}
],
"E_ar": [{"y":-1.01,"label":"1 ms"},{"y":-3.0,"label":"512 ms"}],
"G_v": [{"t":8.7,"y":0.66},{"t":18.7,"y":1.2},{"t":28.7,"y":0.66},{"t":48.9,"y":1.2},{"t":58.9,"y":0.66},{"t":79.2,"y":1.2},{"t":89.1,"y":0.73},{"t":99,"y":0.73}],
"G_i0": [{"t":8.7,"y":0},{"t":18.75,"y":0},{"t":19.0,"y":-0.5},{"t":19.35,"y":-0.25},{"t":19.75,"y":-0.14},{"t":20.35,"y":-0.07},{"t":21.25,"y":-0.03},{"t":23.25,"y":0},{"t":48.95,"y":0},{"t":49.2,"y":-2.85},{"t":49.55,"y":-1.43},{"t":49.95,"y":-0.8},{"t":50.55,"y":-0.4},{"t":51.45,"y":-0.17},{"t":53.45,"y":0},{"t":99,"y":0}],
"G_sw": [
{"d":0.03,"t":79.25,"y":0},{"d":0.03,"t":79.5,"y":-2.69},{"d":0.03,"t":79.85,"y":-1.35},{"d":0.03,"t":80.25,"y":-0.75},{"d":0.03,"t":80.85,"y":-0.38},{"d":0.03,"t":81.75,"y":-0.16},{"d":0.03,"t":83.75,"y":0},
{"d":0.04,"t":79.25,"y":0},{"d":0.04,"t":79.5,"y":-2.6},{"d":0.04,"t":79.85,"y":-1.3},{"d":0.04,"t":80.25,"y":-0.73},{"d":0.04,"t":80.85,"y":-0.36},{"d":0.04,"t":81.75,"y":-0.16},{"d":0.04,"t":83.75,"y":0},
{"d":0.06,"t":79.25,"y":0},{"d":0.06,"t":79.5,"y":-2.34},{"d":0.06,"t":79.85,"y":-1.17},{"d":0.06,"t":80.25,"y":-0.66},{"d":0.06,"t":80.85,"y":-0.33},{"d":0.06,"t":81.75,"y":-0.14},{"d":0.06,"t":83.75,"y":0},
{"d":0.1,"t":79.25,"y":0},{"d":0.1,"t":79.5,"y":-1.96},{"d":0.1,"t":79.85,"y":-0.98},{"d":0.1,"t":80.25,"y":-0.55},{"d":0.1,"t":80.85,"y":-0.27},{"d":0.1,"t":81.75,"y":-0.12},{"d":0.1,"t":83.75,"y":0},
{"d":0.18,"t":79.25,"y":0},{"d":0.18,"t":79.5,"y":-1.46},{"d":0.18,"t":79.85,"y":-0.73},{"d":0.18,"t":80.25,"y":-0.41},{"d":0.18,"t":80.85,"y":-0.2},{"d":0.18,"t":81.75,"y":-0.09},{"d":0.18,"t":83.75,"y":0},
{"d":0.34,"t":79.25,"y":0},{"d":0.34,"t":79.5,"y":-0.96},{"d":0.34,"t":79.85,"y":-0.48},{"d":0.34,"t":80.25,"y":-0.27},{"d":0.34,"t":80.85,"y":-0.13},{"d":0.34,"t":81.75,"y":-0.06},{"d":0.34,"t":83.75,"y":0},
{"d":0.66,"t":79.25,"y":0},{"d":0.66,"t":79.5,"y":-0.61},{"d":0.66,"t":79.85,"y":-0.31},{"d":0.66,"t":80.25,"y":-0.17},{"d":0.66,"t":80.85,"y":-0.09},{"d":0.66,"t":81.75,"y":-0.04},{"d":0.66,"t":83.75,"y":0},
{"d":1.3,"t":79.25,"y":0},{"d":1.3,"t":79.5,"y":-0.4},{"d":1.3,"t":79.85,"y":-0.2},{"d":1.3,"t":80.25,"y":-0.11},{"d":1.3,"t":80.85,"y":-0.06},{"d":1.3,"t":81.75,"y":-0.02},{"d":1.3,"t":83.75,"y":0},
{"d":2.6,"t":79.25,"y":0},{"d":2.6,"t":79.5,"y":-0.38},{"d":2.6,"t":79.85,"y":-0.19},{"d":2.6,"t":80.25,"y":-0.11},{"d":2.6,"t":80.85,"y":-0.05},{"d":2.6,"t":81.75,"y":-0.02},{"d":2.6,"t":83.75,"y":0},
{"d":5.14,"t":79.25,"y":0},{"d":5.14,"t":79.5,"y":-0.38},{"d":5.14,"t":79.85,"y":-0.19},{"d":5.14,"t":80.25,"y":-0.11},{"d":5.14,"t":80.85,"y":-0.05},{"d":5.14,"t":81.75,"y":-0.02},{"d":5.14,"t":83.75,"y":0}
],
"G_ar": [{"y":-0.38,"label":"5.14 s"},{"y":-2.69,"label":"30 ms"}],
"B": [
{"s":"50 Hz (6)","x":1,"y":0.144,"lo":0.119,"hi":0.169},{"s":"50 Hz (6)","x":2,"y":0.188,"lo":0.162,"hi":0.214},{"s":"50 Hz (6)","x":3,"y":0.231,"lo":0.201,"hi":0.261},{"s":"50 Hz (6)","x":4,"y":0.267,"lo":0.232,"hi":0.302},{"s":"50 Hz (6)","x":5,"y":0.294,"lo":0.254,"hi":0.334},{"s":"50 Hz (6)","x":6,"y":0.311,"lo":0.27,"hi":0.352},{"s":"50 Hz (6)","x":7,"y":0.329,"lo":0.282,"hi":0.376},{"s":"50 Hz (6)","x":8,"y":0.337,"lo":0.293,"hi":0.381},{"s":"50 Hz (6)","x":9,"y":0.354,"lo":0.306,"hi":0.402},{"s":"50 Hz (6)","x":10,"y":0.358,"lo":0.312,"hi":0.404},{"s":"50 Hz (6)","x":11,"y":0.372,"lo":0.321,"hi":0.423},{"s":"50 Hz (6)","x":12,"y":0.372,"lo":0.321,"hi":0.423},
{"s":"20 Hz","x":1,"y":0.144,"lo":0.119,"hi":0.169},{"s":"20 Hz","x":2,"y":0.198,"lo":0.176,"hi":0.22},{"s":"20 Hz","x":3,"y":0.229,"lo":0.205,"hi":0.253},{"s":"20 Hz","x":4,"y":0.253,"lo":0.226,"hi":0.28},{"s":"20 Hz","x":5,"y":0.272,"lo":0.236,"hi":0.308},{"s":"20 Hz","x":6,"y":0.284,"lo":0.242,"hi":0.326},{"s":"20 Hz","x":7,"y":0.299,"lo":0.263,"hi":0.335},{"s":"20 Hz","x":8,"y":0.299,"lo":0.262,"hi":0.336},{"s":"20 Hz","x":9,"y":0.301,"lo":0.261,"hi":0.341},{"s":"20 Hz","x":10,"y":0.307,"lo":0.265,"hi":0.349},{"s":"20 Hz","x":11,"y":0.312,"lo":0.27,"hi":0.354},{"s":"20 Hz","x":12,"y":0.314,"lo":0.272,"hi":0.356},
{"s":"10 Hz","x":1,"y":0.144,"lo":0.119,"hi":0.169},{"s":"10 Hz","x":2,"y":0.192,"lo":0.167,"hi":0.217},{"s":"10 Hz","x":3,"y":0.217,"lo":0.187,"hi":0.247},{"s":"10 Hz","x":4,"y":0.229,"lo":0.196,"hi":0.262},{"s":"10 Hz","x":5,"y":0.233,"lo":0.197,"hi":0.269},{"s":"10 Hz","x":6,"y":0.239,"lo":0.201,"hi":0.277},{"s":"10 Hz","x":7,"y":0.243,"lo":0.206,"hi":0.28},{"s":"10 Hz","x":8,"y":0.242,"lo":0.205,"hi":0.279},{"s":"10 Hz","x":9,"y":0.247,"lo":0.209,"hi":0.285},{"s":"10 Hz","x":10,"y":0.247,"lo":0.209,"hi":0.285},{"s":"10 Hz","x":11,"y":0.247,"lo":0.209,"hi":0.285},{"s":"10 Hz","x":12,"y":0.248,"lo":0.21,"hi":0.286},
{"s":"5 Hz","x":1,"y":0.144,"lo":0.119,"hi":0.169},{"s":"5 Hz","x":2,"y":0.176,"lo":0.154,"hi":0.198},{"s":"5 Hz","x":3,"y":0.184,"lo":0.159,"hi":0.209},{"s":"5 Hz","x":4,"y":0.19,"lo":0.163,"hi":0.217},{"s":"5 Hz","x":5,"y":0.195,"lo":0.167,"hi":0.223},{"s":"5 Hz","x":6,"y":0.196,"lo":0.168,"hi":0.224},{"s":"5 Hz","x":7,"y":0.196,"lo":0.168,"hi":0.224},{"s":"5 Hz","x":8,"y":0.193,"lo":0.165,"hi":0.221},{"s":"5 Hz","x":9,"y":0.196,"lo":0.168,"hi":0.224},{"s":"5 Hz","x":10,"y":0.193,"lo":0.165,"hi":0.221},{"s":"5 Hz","x":11,"y":0.2,"lo":0.172,"hi":0.228},{"s":"5 Hz","x":12,"y":0.198,"lo":0.17,"hi":0.226},
{"s":"2 Hz","x":1,"y":0.144,"lo":0.122,"hi":0.166},{"s":"2 Hz","x":2,"y":0.162,"lo":0.139,"hi":0.185},{"s":"2 Hz","x":3,"y":0.16,"lo":0.136,"hi":0.184},{"s":"2 Hz","x":4,"y":0.159,"lo":0.134,"hi":0.184},{"s":"2 Hz","x":5,"y":0.16,"lo":0.135,"hi":0.185},{"s":"2 Hz","x":6,"y":0.161,"lo":0.136,"hi":0.186},{"s":"2 Hz","x":7,"y":0.16,"lo":0.135,"hi":0.185},{"s":"2 Hz","x":8,"y":0.159,"lo":0.134,"hi":0.184},{"s":"2 Hz","x":9,"y":0.162,"lo":0.136,"hi":0.188},{"s":"2 Hz","x":10,"y":0.161,"lo":0.135,"hi":0.187},{"s":"2 Hz","x":11,"y":0.159,"lo":0.133,"hi":0.185},{"s":"2 Hz","x":12,"y":0.161,"lo":0.135,"hi":0.187}
],
"B_leg": [{"s":"50 Hz (6)","y":0.4668},{"s":"20 Hz","y":0.4416},{"s":"10 Hz","y":0.4163},{"s":"5 Hz","y":0.3922},{"s":"2 Hz","y":0.3657}],
"D_r": [{"x":-140,"y":1.43,"lo":1.4,"hi":1.46},{"x":-120,"y":1.4,"lo":1.37,"hi":1.43},{"x":-100,"y":1.49,"lo":1.46,"hi":1.52},{"x":-80,"y":1.64,"lo":1.6,"hi":1.68},{"x":-60,"y":1.93,"lo":1.87,"hi":1.99},{"x":-40,"y":2.46,"lo":2.3,"hi":2.62},{"x":-20,"y":3.04,"lo":2.72,"hi":3.36},{"x":0,"y":3.51,"lo":3.07,"hi":3.95},{"x":20,"y":3.8,"lo":3.21,"hi":4.39},{"x":40,"y":3.91,"lo":3.29,"hi":4.53},{"x":60,"y":3.93,"lo":3.31,"hi":4.55},{"x":80,"y":3.99,"lo":3.34,"hi":4.64}],
"D_c": [{"x":-140,"y":1.0},{"x":-120,"y":1.0},{"x":-100,"y":1.0},{"x":-80,"y":0.99},{"x":-60,"y":0.99},{"x":-40,"y":0.99},{"x":-20,"y":1.0},{"x":0,"y":0.99},{"x":20,"y":1.0},{"x":40,"y":0.99},{"x":60,"y":0.99},{"x":80,"y":0.99}],
"D_fit": [{"x":-140,"y":1.416},{"x":-130,"y":1.425},{"x":-120,"y":1.44},{"x":-110,"y":1.463},{"x":-100,"y":1.5},{"x":-90,"y":1.557},{"x":-80,"y":1.643},{"x":-70,"y":1.769},{"x":-60,"y":1.945},{"x":-50,"y":2.176},{"x":-40,"y":2.453},{"x":-30,"y":2.755},{"x":-20,"y":3.049},{"x":-10,"y":3.307},{"x":0,"y":3.513},{"x":10,"y":3.665},{"x":20,"y":3.771},{"x":30,"y":3.843},{"x":40,"y":3.889},{"x":50,"y":3.919},{"x":60,"y":3.938},{"x":70,"y":3.95},{"x":80,"y":3.958}],
"F_r": [{"x":0.001,"y":1.62,"lo":1.58,"hi":1.66},{"x":0.002,"y":1.68,"lo":1.64,"hi":1.72},{"x":0.004,"y":1.81,"lo":1.76,"hi":1.86},{"x":0.008,"y":2.05,"lo":1.99,"hi":2.11},{"x":0.016,"y":2.48,"lo":2.29,"hi":2.67},{"x":0.032,"y":2.92,"lo":2.65,"hi":3.19},{"x":0.064,"y":3.55,"lo":3.08,"hi":4.02},{"x":0.128,"y":3.74,"lo":3.24,"hi":4.24},{"x":0.256,"y":3.83,"lo":3.22,"hi":4.44},{"x":0.512,"y":3.83,"lo":3.25,"hi":4.41}],
"F_c": [{"x":0.001,"y":1.0},{"x":0.002,"y":1.0},{"x":0.004,"y":1.0},{"x":0.008,"y":0.98},{"x":0.016,"y":0.98},{"x":0.032,"y":0.98},{"x":0.064,"y":0.99},{"x":0.128,"y":0.99},{"x":0.256,"y":0.98},{"x":0.512,"y":0.95}],
"F_fit": [{"x":0.001,"y":1.648},{"x":0.0015,"y":1.681},{"x":0.002,"y":1.714},{"x":0.003,"y":1.778},{"x":0.004,"y":1.84},{"x":0.006,"y":1.959},{"x":0.008,"y":2.07},{"x":0.01,"y":2.175},{"x":0.013,"y":2.32},{"x":0.016,"y":2.453},{"x":0.02,"y":2.612},{"x":0.025,"y":2.784},{"x":0.032,"y":2.986},{"x":0.04,"y":3.168},{"x":0.05,"y":3.341},{"x":0.064,"y":3.509},{"x":0.08,"y":3.63},{"x":0.1,"y":3.718},{"x":0.128,"y":3.777},{"x":0.16,"y":3.804},{"x":0.2,"y":3.815},{"x":0.256,"y":3.819},{"x":0.35,"y":3.82},{"x":0.512,"y":3.82}],
"H_r": [{"x":0.03,"y":0.976,"lo":0.961,"hi":0.991},{"x":0.04,"y":0.947,"lo":0.932,"hi":0.962},{"x":0.06,"y":0.867,"lo":0.847,"hi":0.887},{"x":0.1,"y":0.747,"lo":0.727,"hi":0.767},{"x":0.18,"y":0.59,"lo":0.565,"hi":0.615},{"x":0.34,"y":0.434,"lo":0.399,"hi":0.469},{"x":0.66,"y":0.325,"lo":0.295,"hi":0.355},{"x":1.3,"y":0.26,"lo":0.22,"hi":0.3},{"x":2.6,"y":0.248,"lo":0.208,"hi":0.288},{"x":5.14,"y":0.253,"lo":0.213,"hi":0.293}],
"H_c": [{"x":0.03,"y":1.0},{"x":0.04,"y":1.015},{"x":0.06,"y":1.02},{"x":0.1,"y":1.015},{"x":0.18,"y":1.015},{"x":0.34,"y":1.015},{"x":0.66,"y":1.03},{"x":1.3,"y":1.015},{"x":2.6,"y":1.035},{"x":5.14,"y":1.025}],
"H_fit": [{"x":0.02,"y":1.0},{"x":0.03,"y":0.966},{"x":0.04,"y":0.934},{"x":0.05,"y":0.903},{"x":0.06,"y":0.874},{"x":0.08,"y":0.819},{"x":0.1,"y":0.769},{"x":0.13,"y":0.702},{"x":0.16,"y":0.643},{"x":0.2,"y":0.578},{"x":0.25,"y":0.511},{"x":0.3,"y":0.458},{"x":0.4,"y":0.382},{"x":0.5,"y":0.335},{"x":0.6,"y":0.305},{"x":0.8,"y":0.275},{"x":1.0,"y":0.263},{"x":1.3,"y":0.257},{"x":2,"y":0.255},{"x":4,"y":0.255},{"x":6,"y":0.255}]
}
}
